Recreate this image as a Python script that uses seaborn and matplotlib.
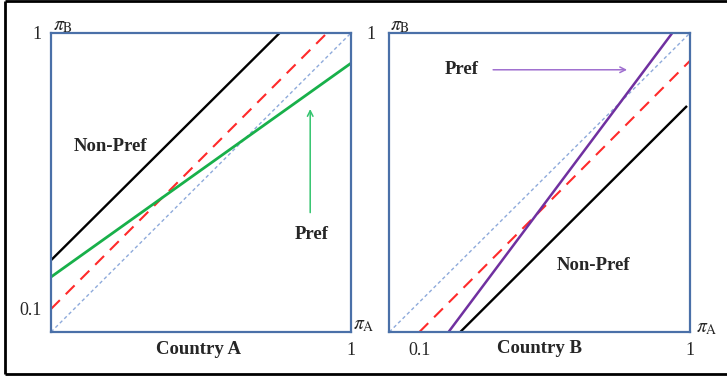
import matplotlib
matplotlib.use("Agg")
import matplotlib.pyplot as plt
from matplotlib.lines import Line2D
import seaborn as sns

# Country A panel: line endpoints (pi_A, pi_B)
A_diag_x, A_diag_y = [0.0, 1.0], [0.0, 1.0]
A_red_x, A_red_y = [0.0, 0.92], [0.077, 1.0]
A_black_x, A_black_y = [0.0, 0.762], [0.24, 1.0]
A_green_x, A_green_y = [0.0, 1.0], [0.184, 0.899]
A_xticks, A_xticklabels = [1.0], ["1"]
A_yticks, A_yticklabels = [0.077, 1.0], ["0.1", "1"]

# Country B panel
B_diag_x, B_diag_y = [0.0, 1.0], [0.0, 1.0]
B_red_x, B_red_y = [0.1, 1.0], [0.0, 0.907]
B_purple_x, B_purple_y = [0.197, 0.941], [0.0, 1.0]
B_black_x, B_black_y = [0.236, 0.99], [0.0, 0.756]
B_xticks, B_xticklabels = [0.1, 1.0], ["0.1", "1"]
B_yticks, B_yticklabels = [1.0], ["1"]

sns.set_style("white")
plt.rcParams["font.family"] = ["Liberation Serif", "DejaVu Serif"]
plt.rcParams["mathtext.fontset"] = "stix"

SPINE = "#4a70a8"
W, H = 727, 377
fig = plt.figure(figsize=(W / 100, H / 100), dpi=100)
ax1 = fig.add_axes([51 / W, (H - 332) / H, 300 / W, 299 / H])
ax2 = fig.add_axes([389.3 / W, (H - 332) / H, 300.7 / W, 299 / H])


def line(ax, x, y, color, lw, dashes=None):
    sns.lineplot(x=x, y=y, ax=ax, color=color, lw=lw, sort=False, estimator=None)
    ln = ax.lines[-1]
    ln.set_solid_capstyle("butt")
    if dashes:
        ln.set_dashes(dashes)


def frame(ax, xt, xtl, yt, ytl, ypad):
    ax.set_xlim(0, 1)
    ax.set_ylim(0, 1)
    for s in ax.spines.values():
        s.set_visible(True)
        s.set_color(SPINE)
        s.set_linewidth(1.6)
    ax.set_xticks(xt, xtl)
    ax.set_yticks(yt, ytl)
    ax.tick_params(axis="x", length=0, pad=7, labelsize=13)
    ax.tick_params(axis="y", length=0, pad=ypad, labelsize=13)
    ax.set_xlabel("")
    ax.set_ylabel("")


# left panel
line(ax1, A_diag_x, A_diag_y, "#8eaadb", 1.0, (2.5, 2))
line(ax1, A_red_x, A_red_y, "#ff2a2a", 1.5, (6, 4))
line(ax1, A_black_x, A_black_y, "black", 1.7)
line(ax1, A_green_x, A_green_y, "#18b04a", 2.0)
frame(ax1, A_xticks, A_xticklabels, A_yticks, A_yticklabels, 7)
ax1.annotate("", xy=(0.864, 0.755), xytext=(0.864, 0.39),
             arrowprops=dict(arrowstyle="->", color="#33c46e", lw=1.1))
bold = dict(fontsize=13.5, fontweight="bold", ha="center", va="center")
ax1.text(0.20, 0.62, "Non-Pref", **bold)
ax1.text(0.868, 0.327, "Pref", **bold)
ax1.text(0.493, -0.057, "Country A", transform=ax1.transAxes, clip_on=False, **bold)
ax1.text(0.041, 1.023, r"$\pi_{\mathrm{B}}$", transform=ax1.transAxes,
         fontsize=14, ha="center", va="center")
ax1.text(1.041, 0.023, r"$\pi_{\mathrm{A}}$", transform=ax1.transAxes,
         fontsize=14, ha="center", va="center")

# right panel
line(ax2, B_diag_x, B_diag_y, "#8eaadb", 1.0, (2.5, 2))
line(ax2, B_red_x, B_red_y, "#ff2a2a", 1.5, (6, 4))
line(ax2, B_black_x, B_black_y, "black", 1.7)
line(ax2, B_purple_x, B_purple_y, "#7030a0", 1.8)
frame(ax2, B_xticks, B_xticklabels, B_yticks, B_yticklabels, 10)
ax2.annotate("", xy=(0.80, 0.877), xytext=(0.336, 0.877),
             arrowprops=dict(arrowstyle="->", color="#a070d0", lw=1.1))
ax2.text(0.241, 0.877, "Pref", **bold)
ax2.text(0.68, 0.223, "Non-Pref", **bold)
ax2.text(0.50, -0.055, "Country B", transform=ax2.transAxes, clip_on=False, **bold)
ax2.text(0.036, 1.023, r"$\pi_{\mathrm{B}}$", transform=ax2.transAxes,
         fontsize=14, ha="center", va="center")
ax2.text(1.057, 0.013, r"$\pi_{\mathrm{A}}$", transform=ax2.transAxes,
         fontsize=14, ha="center", va="center")

# outer black frame (left, top, bottom only)
fx0, fy0, fy1 = 5 / W, (H - 373.5) / H, (H - 1.3) / H
for xs, ys in [([fx0, fx0], [fy0, fy1]), ([fx0, 1.0], [fy1, fy1]), ([fx0, 1.0], [fy0, fy0])]:
    fig.add_artist(Line2D(xs, ys, transform=fig.transFigure, color="black", lw=2.0,
                          solid_capstyle="butt"))

fig.savefig("out.png", dpi=100)
